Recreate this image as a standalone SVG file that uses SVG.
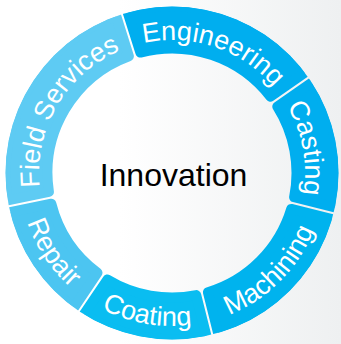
<svg xmlns="http://www.w3.org/2000/svg" width="341" height="344" viewBox="0 0 341 344">
  <defs>
    <linearGradient id="bg" x1="0" y1="0" x2="1" y2="0">
      <stop offset="0.35" stop-color="#ffffff"/>
      <stop offset="1" stop-color="#eef0f1"/>
    </linearGradient>
    <clipPath id="ring">
      <circle cx="172" cy="173" r="166.5"/>
    </clipPath>
    <path id="tp-eng" d="M 132.01 46.16 A 133 133 0 0 1 280.95 96.71"/>
    <path id="tp-cast" d="M 280.95 96.71 A 133 133 0 0 1 301.05 205.18"/>
    <path id="tp-fs" d="M 41.67 199.52 A 133 133 0 0 1 132.01 46.16"/>
    <path id="tp-mach" d="M 209.01 321.46 A 153 153 0 0 0 320.46 210.01"/>
    <path id="tp-coat" d="M 86.44 299.84 A 153 153 0 0 0 209.01 321.46"/>
    <path id="tp-rep" d="M 22.07 203.50 A 153 153 0 0 0 86.44 299.84"/>
  </defs>
  <style>
    .seg { stroke-width: 10; stroke-linejoin: round; }
    .lbl { font-family: "Liberation Sans", Arial, sans-serif; font-size: 27px; fill: #ffffff; text-anchor: middle; }
    .center { font-family: "Liberation Sans", Arial, sans-serif; font-size: 32px; fill: #000000; text-anchor: middle; }
  </style>
  <rect x="0" y="0" width="341" height="344" fill="url(#bg)"/>
  <g id="segments" clip-path="url(#ring)">
    <g id="engineering">
      <path class="seg" fill="#00aeef" stroke="#00aeef" d="M 127.69 12.51 A 166.5 166.5 0 0 1 304.86 72.65 L 270.42 96.76 A 124.5 124.5 0 0 0 140.33 52.60 Z"/>
    </g>
    <g id="casting">
      <path class="seg" fill="#00aeef" stroke="#00aeef" d="M 311.74 82.48 A 166.5 166.5 0 0 1 334.90 207.43 L 294.11 197.26 A 124.5 124.5 0 0 0 277.31 106.59 Z"/>
    </g>
    <g id="machining">
      <path class="seg" fill="#00b3ee" stroke="#00b3ee" d="M 332.00 219.08 A 166.5 166.5 0 0 1 218.08 333.00 L 207.91 292.21 A 124.5 124.5 0 0 0 291.21 208.91 Z"/>
    </g>
    <g id="coating">
      <path class="seg" fill="#0abdf1" stroke="#0abdf1" d="M 206.43 335.90 A 166.5 166.5 0 0 1 83.93 314.30 L 107.44 279.45 A 124.5 124.5 0 0 0 196.26 295.11 Z"/>
    </g>
    <g id="repair">
      <path class="seg" fill="#4cc5f1" stroke="#4cc5f1" d="M 73.98 307.59 A 166.5 166.5 0 0 1 10.15 212.05 L 51.34 203.67 A 124.5 124.5 0 0 0 97.49 272.74 Z"/>
    </g>
    <g id="field-services">
      <path class="seg" fill="#5ecbf3" stroke="#5ecbf3" d="M 7.75 200.29 A 166.5 166.5 0 0 1 116.24 16.11 L 128.88 56.20 A 124.5 124.5 0 0 0 48.94 191.91 Z"/>
    </g>
  </g>
  <g id="labels">
    <text class="lbl"><textPath href="#tp-eng" startOffset="50%">Engineering</textPath></text>
    <text class="lbl"><textPath href="#tp-cast" startOffset="50%">Casting</textPath></text>
    <text class="lbl"><textPath href="#tp-mach" startOffset="50%">Machining</textPath></text>
    <text class="lbl"><textPath href="#tp-coat" startOffset="50%">Coating</textPath></text>
    <text class="lbl"><textPath href="#tp-rep" startOffset="50%">Repair</textPath></text>
    <text class="lbl"><textPath href="#tp-fs" startOffset="50%">Field Services</textPath></text>
  </g>
  <g id="innovation">
    <text class="center" x="173.5" y="186">Innovation</text>
  </g>
</svg>
